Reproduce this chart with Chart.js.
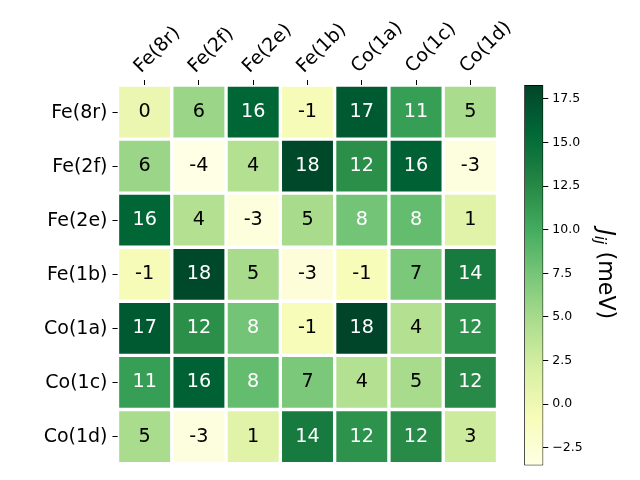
<!DOCTYPE html>
<html>
<head>
<meta charset="utf-8">
<script src="https://cdn.jsdelivr.net/npm/chart.js@4.4.1/dist/chart.umd.min.js"></script>
<style>
  html, body { margin: 0; padding: 0; background: #ffffff; }
  #wrap { position: relative; width: 640px; height: 480px; }
  #wrap canvas { position: absolute; left: 0; top: 0; }
</style>
</head>
<body>
<div id="wrap">
  <canvas id="heat" width="640" height="480"></canvas>
  <canvas id="cbar" width="640" height="480"></canvas>
</div>
<script>
// ---------------- data ----------------
const rowLabels = ['Fe(8r)', 'Fe(2f)', 'Fe(2e)', 'Fe(1b)', 'Co(1a)', 'Co(1c)', 'Co(1d)'];
const colLabels = ['Fe(8r)', 'Fe(2f)', 'Fe(2e)', 'Fe(1b)', 'Co(1a)', 'Co(1c)', 'Co(1d)'];

const rowFe8r = [0.3, 5.6, 15.7, -0.7, 16.7, 11.0, 4.8];
const rowFe2f = [5.6, -3.52, 4.2, 18.1, 12.1, 16.1, -3.0];
const rowFe2e = [15.7, 4.2, -2.9, 4.9, 7.6, 8.4, 1.3];
const rowFe1b = [-0.7, 18.1, 4.9, -2.8, -0.8, 7.2, 13.8];
const rowCo1a = [16.7, 12.1, 7.6, -0.8, 18.3, 4.2, 11.9];
const rowCo1c = [11.0, 16.1, 8.4, 7.2, 4.2, 4.9, 12.4];
const rowCo1d = [4.8, -3.0, 1.3, 13.8, 11.9, 12.4, 2.7];

const colorbarTicks = [-2.5, 0, 2.5, 5, 7.5, 10, 12.5, 15, 17.5];
const titleMain = 'J';
const titleSub = 'ij';
const titleUnit = ' (meV)';

const rows = [rowFe8r, rowFe2f, rowFe2e, rowFe1b, rowCo1a, rowCo1c, rowCo1d];

// ---------------- colormap (YlGn) ----------------
const ylgn = ['#ffffe5', '#f7fcb9', '#d9f0a3', '#addd8e', '#78c679', '#41ab5d', '#238443', '#006837', '#004529'];
const allVals = rows.flat();
const vmin = Math.min(...allVals);
const vmax = Math.max(...allVals);

function hexToRgb(h) {
  return [parseInt(h.slice(1, 3), 16), parseInt(h.slice(3, 5), 16), parseInt(h.slice(5, 7), 16)];
}
function cmap(v) {
  let t = (v - vmin) / (vmax - vmin);
  t = Math.max(0, Math.min(1, t));
  const pos = t * (ylgn.length - 1);
  const i = Math.min(Math.floor(pos), ylgn.length - 2);
  const f = pos - i;
  const a = hexToRgb(ylgn[i]), b = hexToRgb(ylgn[i + 1]);
  const c = a.map((x, k) => Math.round(x + (b[k] - x) * f));
  return `rgb(${c[0]},${c[1]},${c[2]})`;
}
const threshold = (vmin + vmax) / 2;

const FONT = 'DejaVu Sans';

// ---------------- heatmap ----------------
const datasets = rows.map((vals, r) => ({
  label: rowLabels[r],
  data: vals.map(() => [r - 0.5, r + 0.5]),
  values: vals,
  backgroundColor: vals.map(v => cmap(v)),
  borderColor: '#ffffff',
  borderWidth: 2,
  borderSkipped: false,
  grouped: false,
  barPercentage: 1,
  categoryPercentage: 1
}));

const cellText = {
  id: 'cellText',
  afterDatasetsDraw(chart) {
    const ctx = chart.ctx;
    ctx.save();
    ctx.font = `19.2px "${FONT}"`;
    ctx.textAlign = 'center';
    ctx.textBaseline = 'middle';
    chart.data.datasets.forEach((ds, di) => {
      const meta = chart.getDatasetMeta(di);
      meta.data.forEach((el, j) => {
        const v = ds.values[j];
        const p = el.getCenterPoint();
        ctx.fillStyle = v > threshold ? '#ffffff' : '#000000';
        ctx.fillText(String(Math.round(v)), p.x, p.y);
      });
    });
    ctx.restore();
  }
};

new Chart(document.getElementById('heat'), {
  type: 'bar',
  data: { labels: colLabels, datasets },
  options: {
    responsive: false,
    animation: false,
    layout: { padding: { left: 0, top: 0, right: 142.5, bottom: 15 } },
    plugins: { legend: { display: false }, tooltip: { enabled: false } },
    scales: {
      x: {
        type: 'category',
        position: 'top',
        offset: true,
        grid: { offset: false, drawOnChartArea: false, tickLength: 5, tickColor: '#000', tickWidth: 1 },
        border: { display: false },
        ticks: {
          autoSkip: false, minRotation: 45, maxRotation: 45,
          color: '#000', font: { family: FONT, size: 19 }, padding: 2, labelOffset: 9
        },
        afterFit(s) { s.height = 85; }
      },
      y: {
        type: 'linear',
        reverse: true,
        min: -0.5, max: 6.5,
        afterBuildTicks(s) { s.ticks = rowLabels.map((_, i) => ({ value: i })); },
        grid: { drawOnChartArea: false, tickLength: 5, tickColor: '#000', tickWidth: 1 },
        border: { display: false },
        ticks: {
          color: '#000', font: { family: FONT, size: 19 }, padding: 5, labelOffset: 1,
          callback: (v) => rowLabels[v]
        },
        afterFit(s) { s.width = 117.5; }
      }
    }
  },
  plugins: [cellText]
});

// ---------------- colorbar ----------------
const cbTitle = {
  id: 'cbTitle',
  afterDraw(chart) {
    const ctx = chart.ctx;
    const area = chart.chartArea;
    const cy = (area.top + area.bottom) / 2 - 1;
    const cx = 607;
    const fMain = `italic 22.2px "${FONT}"`;
    const fSub = `italic 15.5px "${FONT}"`;
    const fUnit = `22.2px "${FONT}"`;
    ctx.save();
    ctx.fillStyle = '#000';
    ctx.textBaseline = 'alphabetic';
    ctx.textAlign = 'left';
    ctx.font = fMain; const w1 = ctx.measureText(titleMain).width;
    ctx.font = fSub; const w2 = ctx.measureText(titleSub).width;
    ctx.font = fUnit; const w3 = ctx.measureText(titleUnit).width;
    const total = w1 + w2 + w3;
    ctx.translate(cx, cy);
    ctx.rotate(Math.PI / 2);
    let x = -total / 2;
    const base = 8;
    ctx.font = fMain; ctx.fillText(titleMain, x, base); x += w1;
    ctx.font = fSub; ctx.fillText(titleSub, x, base + 4); x += w2;
    ctx.font = fUnit; ctx.fillText(titleUnit, x, base);
    ctx.restore();
  }
};

new Chart(document.getElementById('cbar'), {
  type: 'bar',
  data: {
    labels: ['cbar'],
    datasets: [{
      data: [[vmin, vmax]],
      backgroundColor(ctx) {
        const chart = ctx.chart;
        const area = chart.chartArea;
        if (!area) return ylgn[4];
        const g = chart.ctx.createLinearGradient(0, area.bottom, 0, area.top);
        ylgn.forEach((c, i) => g.addColorStop(i / (ylgn.length - 1), c));
        return g;
      },
      borderColor: '#000000',
      borderWidth: 1,
      borderSkipped: false,
      barPercentage: 1,
      categoryPercentage: 1
    }]
  },
  options: {
    responsive: false,
    animation: false,
    layout: { padding: { left: 524.3, top: 85, right: 0, bottom: 14.5 } },
    plugins: { legend: { display: false }, tooltip: { enabled: false } },
    scales: {
      x: { display: false },
      y: {
        position: 'right',
        min: vmin, max: vmax,
        afterBuildTicks(s) { s.ticks = colorbarTicks.map(v => ({ value: v })); },
        grid: { drawOnChartArea: false, tickLength: 5, tickColor: '#000', tickWidth: 1 },
        border: { display: false },
        ticks: {
          color: '#000', font: { family: FONT, size: 12.5 }, padding: 4,
          callback: (v) => v.toFixed(1).replace('-', '\u2212')
        },
        afterFit(s) { s.width = 640 - 543.3; }
      }
    }
  },
  plugins: [cbTitle]
});
</script>
</body>
</html>
